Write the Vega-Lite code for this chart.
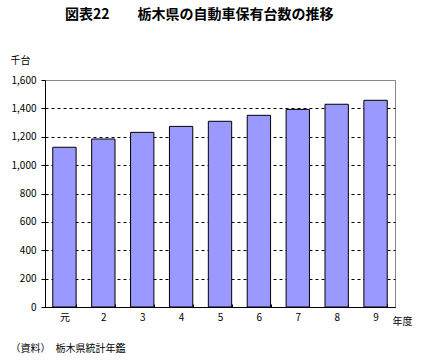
{
  "$schema": "https://vega.github.io/schema/vega-lite/v6.json",
  "width": 350,
  "height": 227,
  "autosize": "none",
  "padding": {"left": 45, "top": 80, "right": 26, "bottom": 53},
  "background": "white",
  "config": {
    "font": "Noto Sans CJK JP",
    "view": {"stroke": "#888888", "strokeWidth": 1}
  },
  "title": {
    "text": "図表22　　栃木県の自動車保有台数の推移",
    "fontSize": 14,
    "fontWeight": "bold",
    "color": "black",
    "anchor": "start",
    "frame": "group",
    "dx": 20,
    "offset": 33
  },
  "data": {
    "values": [
      {"year": "元", "value": 1126},
      {"year": "2", "value": 1184},
      {"year": "3", "value": 1231},
      {"year": "4", "value": 1273},
      {"year": "5", "value": 1309},
      {"year": "6", "value": 1351},
      {"year": "7", "value": 1393},
      {"year": "8", "value": 1429},
      {"year": "9", "value": 1457}
    ]
  },
  "layer": [
    {
      "mark": {"type": "bar", "fill": "#9999FF", "stroke": "black", "strokeWidth": 1},
      "encoding": {
        "x": {
          "field": "year",
          "type": "nominal",
          "sort": null,
          "scale": {"paddingInner": 0.4, "paddingOuter": 0.2},
          "axis": {
            "orient": "bottom",
            "labelAngle": 0,
            "labelFontSize": 10,
            "labelColor": "black",
            "labelPadding": 8,
            "domainColor": "black",
            "tickColor": "black",
            "tickBand": "extent",
            "tickSize": -3,
            "title": "年度",
            "titleX": 347,
            "titleY": 14,
            "titleAlign": "left",
            "titleBaseline": "middle",
            "titleFontSize": 10,
            "titleFontWeight": "normal",
            "titleColor": "black"
          }
        },
        "y": {
          "field": "value",
          "type": "quantitative",
          "scale": {"domain": [0, 1600], "nice": false},
          "axis": {
            "values": [0, 200, 400, 600, 800, 1000, 1200, 1400, 1600],
            "format": ",.0f",
            "labelFontSize": 10,
            "labelColor": "black",
            "labelPadding": 5,
            "tickSize": 4,
            "tickColor": "black",
            "domainColor": "black",
            "gridColor": {"condition": {"test": "datum.value === 1600", "value": "#888888"}, "value": "black"},
            "gridDash": {"condition": {"test": "datum.value === 1600", "value": []}, "value": [3, 3]},
            "title": "千台",
            "titleAngle": 0,
            "titleX": -35,
            "titleY": -20,
            "titleAlign": "left",
            "titleBaseline": "middle",
            "titleFontSize": 10,
            "titleFontWeight": "normal",
            "titleColor": "black"
          }
        }
      }
    },
    {
      "mark": {"type": "bar", "opacity": 0},
      "encoding": {
        "x": {
          "field": "year",
          "type": "nominal",
          "sort": null,
          "axis": {
            "orient": "bottom",
            "labels": false,
            "ticks": false,
            "domain": false,
            "grid": false,
            "title": "（資料）　栃木県統計年鑑",
            "titleX": -35,
            "titleY": 41,
            "titleAlign": "left",
            "titleBaseline": "middle",
            "titleFontSize": 10,
            "titleFontWeight": "normal",
            "titleColor": "black"
          }
        },
        "y": {"field": "value", "type": "quantitative", "axis": null}
      }
    }
  ],
  "resolve": {"axis": {"x": "independent", "y": "independent"}}
}
